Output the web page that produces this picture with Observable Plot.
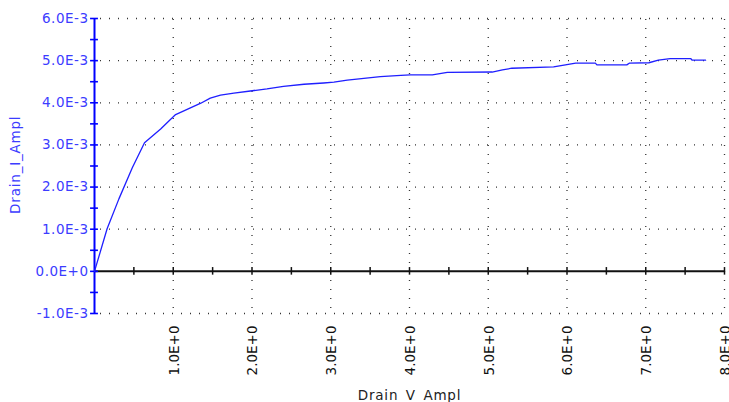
<!DOCTYPE html>
<html>
<head>
<meta charset="utf-8">
<script src="https://cdn.jsdelivr.net/npm/d3@7"></script>
<script src="https://cdn.jsdelivr.net/npm/@observablehq/plot@0.6"></script>
<style>
  html, body { margin: 0; padding: 0; background: #fff; }
  #chart svg { display: block; }
  #chart svg text { font-family: "DejaVu Sans", sans-serif; }
</style>
</head>
<body>
<div id="chart"></div>
<script>
// Drain voltage (V) and drain current (A, in units of 1e-3)
const drainV = [0, 0.16, 0.31, 0.48, 0.635, 0.84, 1.03, 1.35, 1.47, 1.6, 1.77, 1.98, 2.19, 2.40, 2.66, 2.91, 3.04, 3.21, 3.42, 3.63, 3.89, 4.01, 4.29, 4.48, 5.05, 5.18, 5.30, 5.83, 5.98, 6.11, 6.36, 6.38, 6.76, 6.79, 7.04, 7.16, 7.31, 7.57, 7.59, 7.76];
const drainImA = [0, 1.01, 1.72, 2.46, 3.05, 3.38, 3.72, 3.99, 4.11, 4.18, 4.23, 4.28, 4.33, 4.39, 4.44, 4.47, 4.49, 4.54, 4.58, 4.62, 4.65, 4.66, 4.66, 4.72, 4.73, 4.78, 4.82, 4.85, 4.90, 4.94, 4.94, 4.90, 4.90, 4.94, 4.95, 5.01, 5.05, 5.05, 5.01, 5.01];

const xMajorTicks = [1, 2, 3, 4, 5, 6, 7, 8];
const xTickLabels = ["1.0E+0", "2.0E+0", "3.0E+0", "4.0E+0", "5.0E+0", "6.0E+0", "7.0E+0", "8.0E+0"];
const xMinorTicks = [0.5, 1, 1.5, 2, 2.5, 3, 3.5, 4, 4.5, 5, 5.5, 6, 6.5, 7, 7.5, 8];
const yMajorTicks = [-1e-3, 0, 1e-3, 2e-3, 3e-3, 4e-3, 5e-3, 6e-3];
const yTickLabels = ["-1.0E-3", "0.0E+0", "1.0E-3", "2.0E-3", "3.0E-3", "4.0E-3", "5.0E-3", "6.0E-3"];
const yMinorTicks = [-1e-3, -0.5e-3, 0, 0.5e-3, 1e-3, 1.5e-3, 2e-3, 2.5e-3, 3e-3, 3.5e-3, 4e-3, 4.5e-3, 5e-3, 5.5e-3, 6e-3];
const xTitle = "Drain_V_Ampl";
const yTitle = "Drain_I_Ampl";

const data = drainV.map((v, i) => ({v, i: drainImA[i] * 1e-3}));
const xDomain = [0, 8];
const yDomain = [-1e-3, 6e-3];

const blue = "#1f1fff";
const labelBlue = "#3c3cff";
const dotted = "1,8";

const chart = Plot.plot({
  width: 729,
  height: 402,
  marginLeft: 94,
  marginRight: 5,
  marginTop: 18,
  marginBottom: 89,
  style: {fontFamily: "DejaVu Sans, sans-serif", fontSize: "13.5px", background: "#fff", overflow: "hidden"},
  x: {domain: xDomain, axis: null},
  y: {domain: yDomain, axis: null},
  marks: [
    // dotted grid
    Plot.ruleY(yMajorTicks.filter(d => d !== 0), {x1: xDomain[0], x2: xDomain[1], stroke: "#333", strokeWidth: 1.3, strokeDasharray: dotted, strokeDashoffset: -6}),
    Plot.ruleX(xMajorTicks, {y1: yDomain[0], y2: yDomain[1], stroke: "#333", strokeWidth: 1.3, strokeDasharray: dotted, strokeDashoffset: -5}),
    // x axis at zero
    Plot.ruleY([0], {x1: xDomain[0], x2: xDomain[1], stroke: "#111", strokeWidth: 2}),
    Plot.ruleX(xMinorTicks, {y1: -0.09e-3, y2: 0.09e-3, stroke: "#111", strokeWidth: 1.5}),
    // y axis
    Plot.ruleX([0], {y1: yDomain[0], y2: yDomain[1], stroke: "#0000ff", strokeWidth: 2}),
    Plot.ruleY(yMinorTicks, {x1: -0.05, x2: 0.05, stroke: "#0000ff", strokeWidth: 1.6}),
    // data
    Plot.line(data, {x: "v", y: "i", stroke: blue, strokeWidth: 1.3}),
    // y tick labels
    Plot.text(yMajorTicks, {x: 0, y: d => d, text: (d, k) => yTickLabels[k], textAnchor: "end", dx: -6, fill: labelBlue}),
    // x tick labels
    Plot.text(xMajorTicks, {x: d => d, y: yDomain[0], text: (d, k) => xTickLabels[k], rotate: -90, textAnchor: "end", dy: 12, dx: 1, fill: "#111"}),
    // axis titles
    Plot.text([xTitle], {x: (xDomain[0] + xDomain[1]) / 2, y: yDomain[0], text: d => d, dy: 82, fill: "#222"}),
    Plot.text([yTitle], {x: 0, y: 2.53e-3, text: d => d, rotate: -90, dx: -79, fill: labelBlue})
  ]
});
// per-group letter spacing (y tick labels, x tick labels, x title, y title)
const spacing = ["0.5px", "0px", "0.8px", "0.8px"];
d3.select(chart).selectAll("g[aria-label='text']").each(function(d, k) {
  d3.select(this).selectAll("text").style("letter-spacing", spacing[k] || "0px");
});
document.getElementById("chart").appendChild(chart);
</script>
</body>
</html>
